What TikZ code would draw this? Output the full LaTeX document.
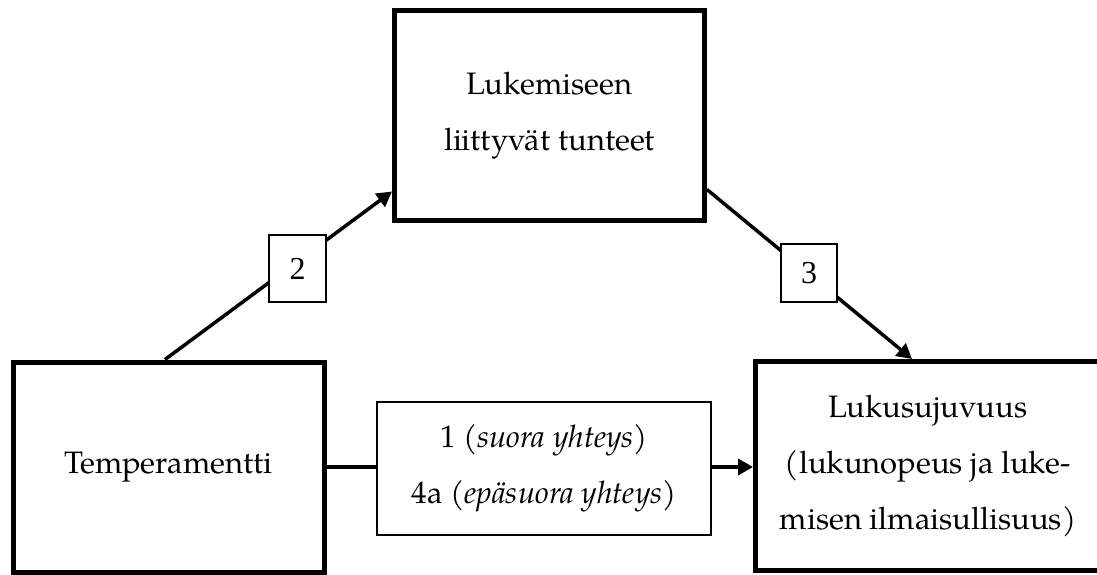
\documentclass[tikz,border=0pt]{standalone}
\usepackage{fontspec}
\setmainfont{TeX Gyre Pagella}
\newfontfamily\labelfont{Liberation Serif}
\usetikzlibrary{arrows.meta}

\begin{document}
\begin{tikzpicture}[x=1pt,y=-1pt,
  every node/.style={inner sep=0pt, align=center,
    font=\fontsize{31}{56}\selectfont},
  mainbox/.style={draw, line width=5pt, fill=white},
  midbox/.style={draw, line width=1.2pt, fill=white},
  numbox/.style={draw, line width=1.2pt, fill=white,
    font=\labelfont\fontsize{32}{36}\selectfont},
  conn/.style={line width=3.5pt},
  arr/.style={conn, -{Triangle[length=15pt,width=16pt]}}]

\useasboundingbox (0,0) rectangle (1097,574);
\clip (0,0) rectangle (1097,574);

% the three variables
\node[mainbox, minimum width=311pt, minimum height=210pt] (temp) at (168.5,467)
  {Temperamentti};
\node[mainbox, minimum width=310pt, minimum height=210pt] (feel) at (549.5,115.5)
  {Lukemiseen\\liittyvät tunteet};
\node[mainbox, minimum width=345pt, minimum height=209pt] (flu) at (928,466)
  {Lukusujuvuus\\(lukunopeus ja luke-\\misen ilmaisullisuus)};

% direct / indirect effect box
\node[midbox, minimum width=334pt, minimum height=133pt] (mid) at (544,468.5)
  {1 (\textit{suora yhteys})\\4a (\textit{epäsuora yhteys})};

% connectors
\draw[arr] ([xshift=-3.5pt]temp.north) -- ([yshift=-76pt]feel.west);
\draw[arr] ([yshift=-74pt]feel.east) -- ([xshift=-16pt]flu.north);
\draw[conn] (temp.east |- 0,467) -- (mid.west |- 0,467);
\draw[arr] (mid.east |- 0,467) -- (flu.west |- 0,467);

% path labels
\node[numbox, minimum width=57pt, minimum height=67pt] (p2) at (297.5,268.5) {2};
\node[numbox, minimum width=56pt, minimum height=58pt] (p3) at (809,273) {3};
\end{tikzpicture}
\end{document}
